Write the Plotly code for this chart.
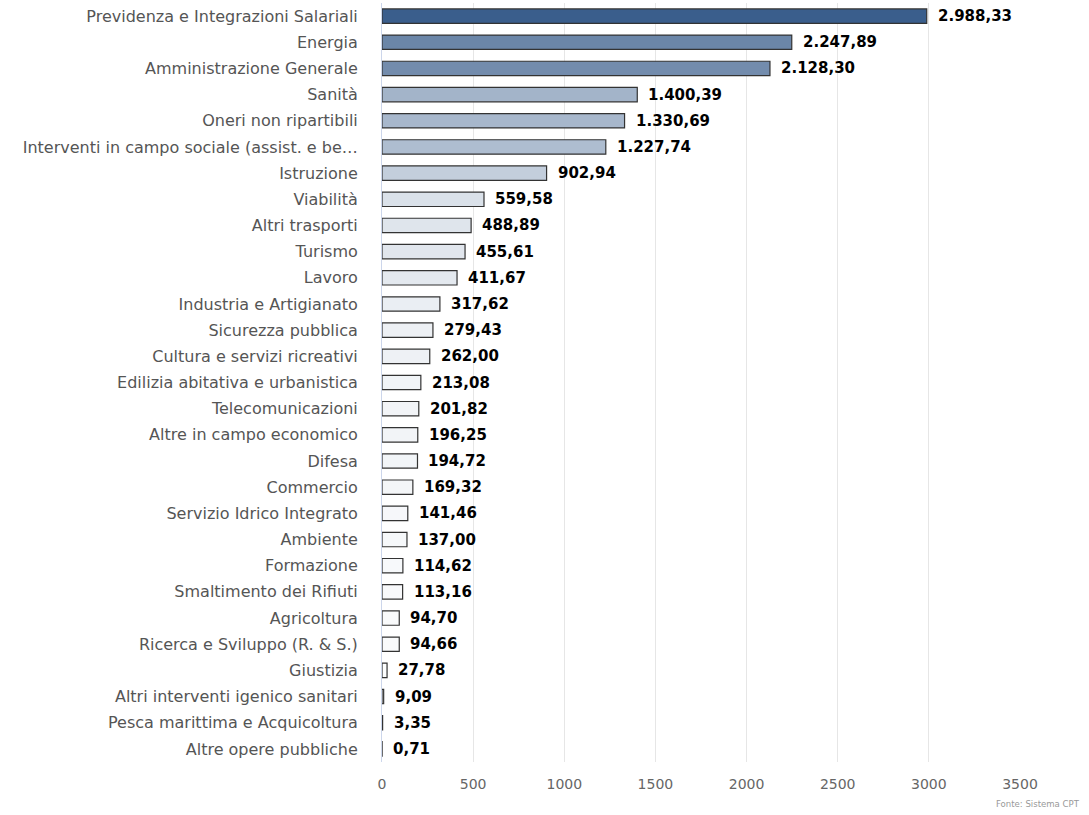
import plotly.graph_objects as go

categories = [
    "Previdenza e Integrazioni Salariali",
    "Energia",
    "Amministrazione Generale",
    "Sanità",
    "Oneri non ripartibili",
    "Interventi in campo sociale (assist. e be…",
    "Istruzione",
    "Viabilità",
    "Altri trasporti",
    "Turismo",
    "Lavoro",
    "Industria e Artigianato",
    "Sicurezza pubblica",
    "Cultura e servizi ricreativi",
    "Edilizia abitativa e urbanistica",
    "Telecomunicazioni",
    "Altre in campo economico",
    "Difesa",
    "Commercio",
    "Servizio Idrico Integrato",
    "Ambiente",
    "Formazione",
    "Smaltimento dei Rifiuti",
    "Agricoltura",
    "Ricerca e Sviluppo (R. & S.)",
    "Giustizia",
    "Altri interventi igenico sanitari",
    "Pesca marittima e Acquicoltura",
    "Altre opere pubbliche",
]
values = [2988.33, 2247.89, 2128.30, 1400.39, 1330.69, 1227.74, 902.94, 559.58,
          488.89, 455.61, 411.67, 317.62, 279.43, 262.00, 213.08, 201.82, 196.25,
          194.72, 169.32, 141.46, 137.00, 114.62, 113.16, 94.70, 94.66, 27.78,
          9.09, 3.35, 0.71]
x_ticks = [0, 500, 1000, 1500, 2000, 2500, 3000, 3500]


def fmt_it(v):
    return f"{v:,.2f}".replace(",", "X").replace(".", ",").replace("X", ".")


fig = go.Figure()
fig.add_trace(go.Bar(
    x=values,
    y=categories,
    orientation="h",
    width=0.55,
    marker=dict(
        color=values,
        colorscale=[[0, "#ffffff"], [1, "#3a5e8c"]],
        cmin=0,
        cmax=max(values),
        line=dict(color="#333333", width=1.2),
    ),
    hoverinfo="skip",
))

for v, c in zip(values, categories):
    fig.add_annotation(
        x=v, y=c, text="<b>" + fmt_it(v) + "</b>",
        xanchor="left", yanchor="middle", xshift=9, showarrow=False,
        font=dict(family="DejaVu Sans", size=15, color="#000000"),
    )

fig.add_annotation(
    x=1, y=0, xref="paper", yref="paper", xanchor="right", yanchor="top",
    text="Fonte: Sistema CPT", showarrow=False, xshift=62, yshift=-34,
    font=dict(family="DejaVu Sans Condensed, DejaVu Sans", size=9.5, color="#999999"),
)

fig.update_layout(
    width=1089, height=815,
    margin=dict(l=382, r=69, t=3, b=53),
    paper_bgcolor="white", plot_bgcolor="white",
    separators=",.",
    showlegend=False,
    xaxis=dict(
        range=[0, 3500], tickvals=x_ticks,
        showgrid=True, gridcolor="#e6e6e6", gridwidth=1,
        zeroline=False, showline=False,
        tickfont=dict(family="DejaVu Sans", size=14, color="#666666"),
        ticks="", ticklabelstandoff=12,
    ),
    yaxis=dict(
        autorange="reversed",
        showline=True, linecolor="#ccd6eb", linewidth=1,
        showgrid=False, zeroline=False,
        tickfont=dict(family="DejaVu Sans", size=16, color="#555555"),
        ticks="", ticklabelstandoff=20,
    ),
)

fig.write_html("out.html", config={"displayModeBar": False},
               post_script="document.body.style.margin='0';")
